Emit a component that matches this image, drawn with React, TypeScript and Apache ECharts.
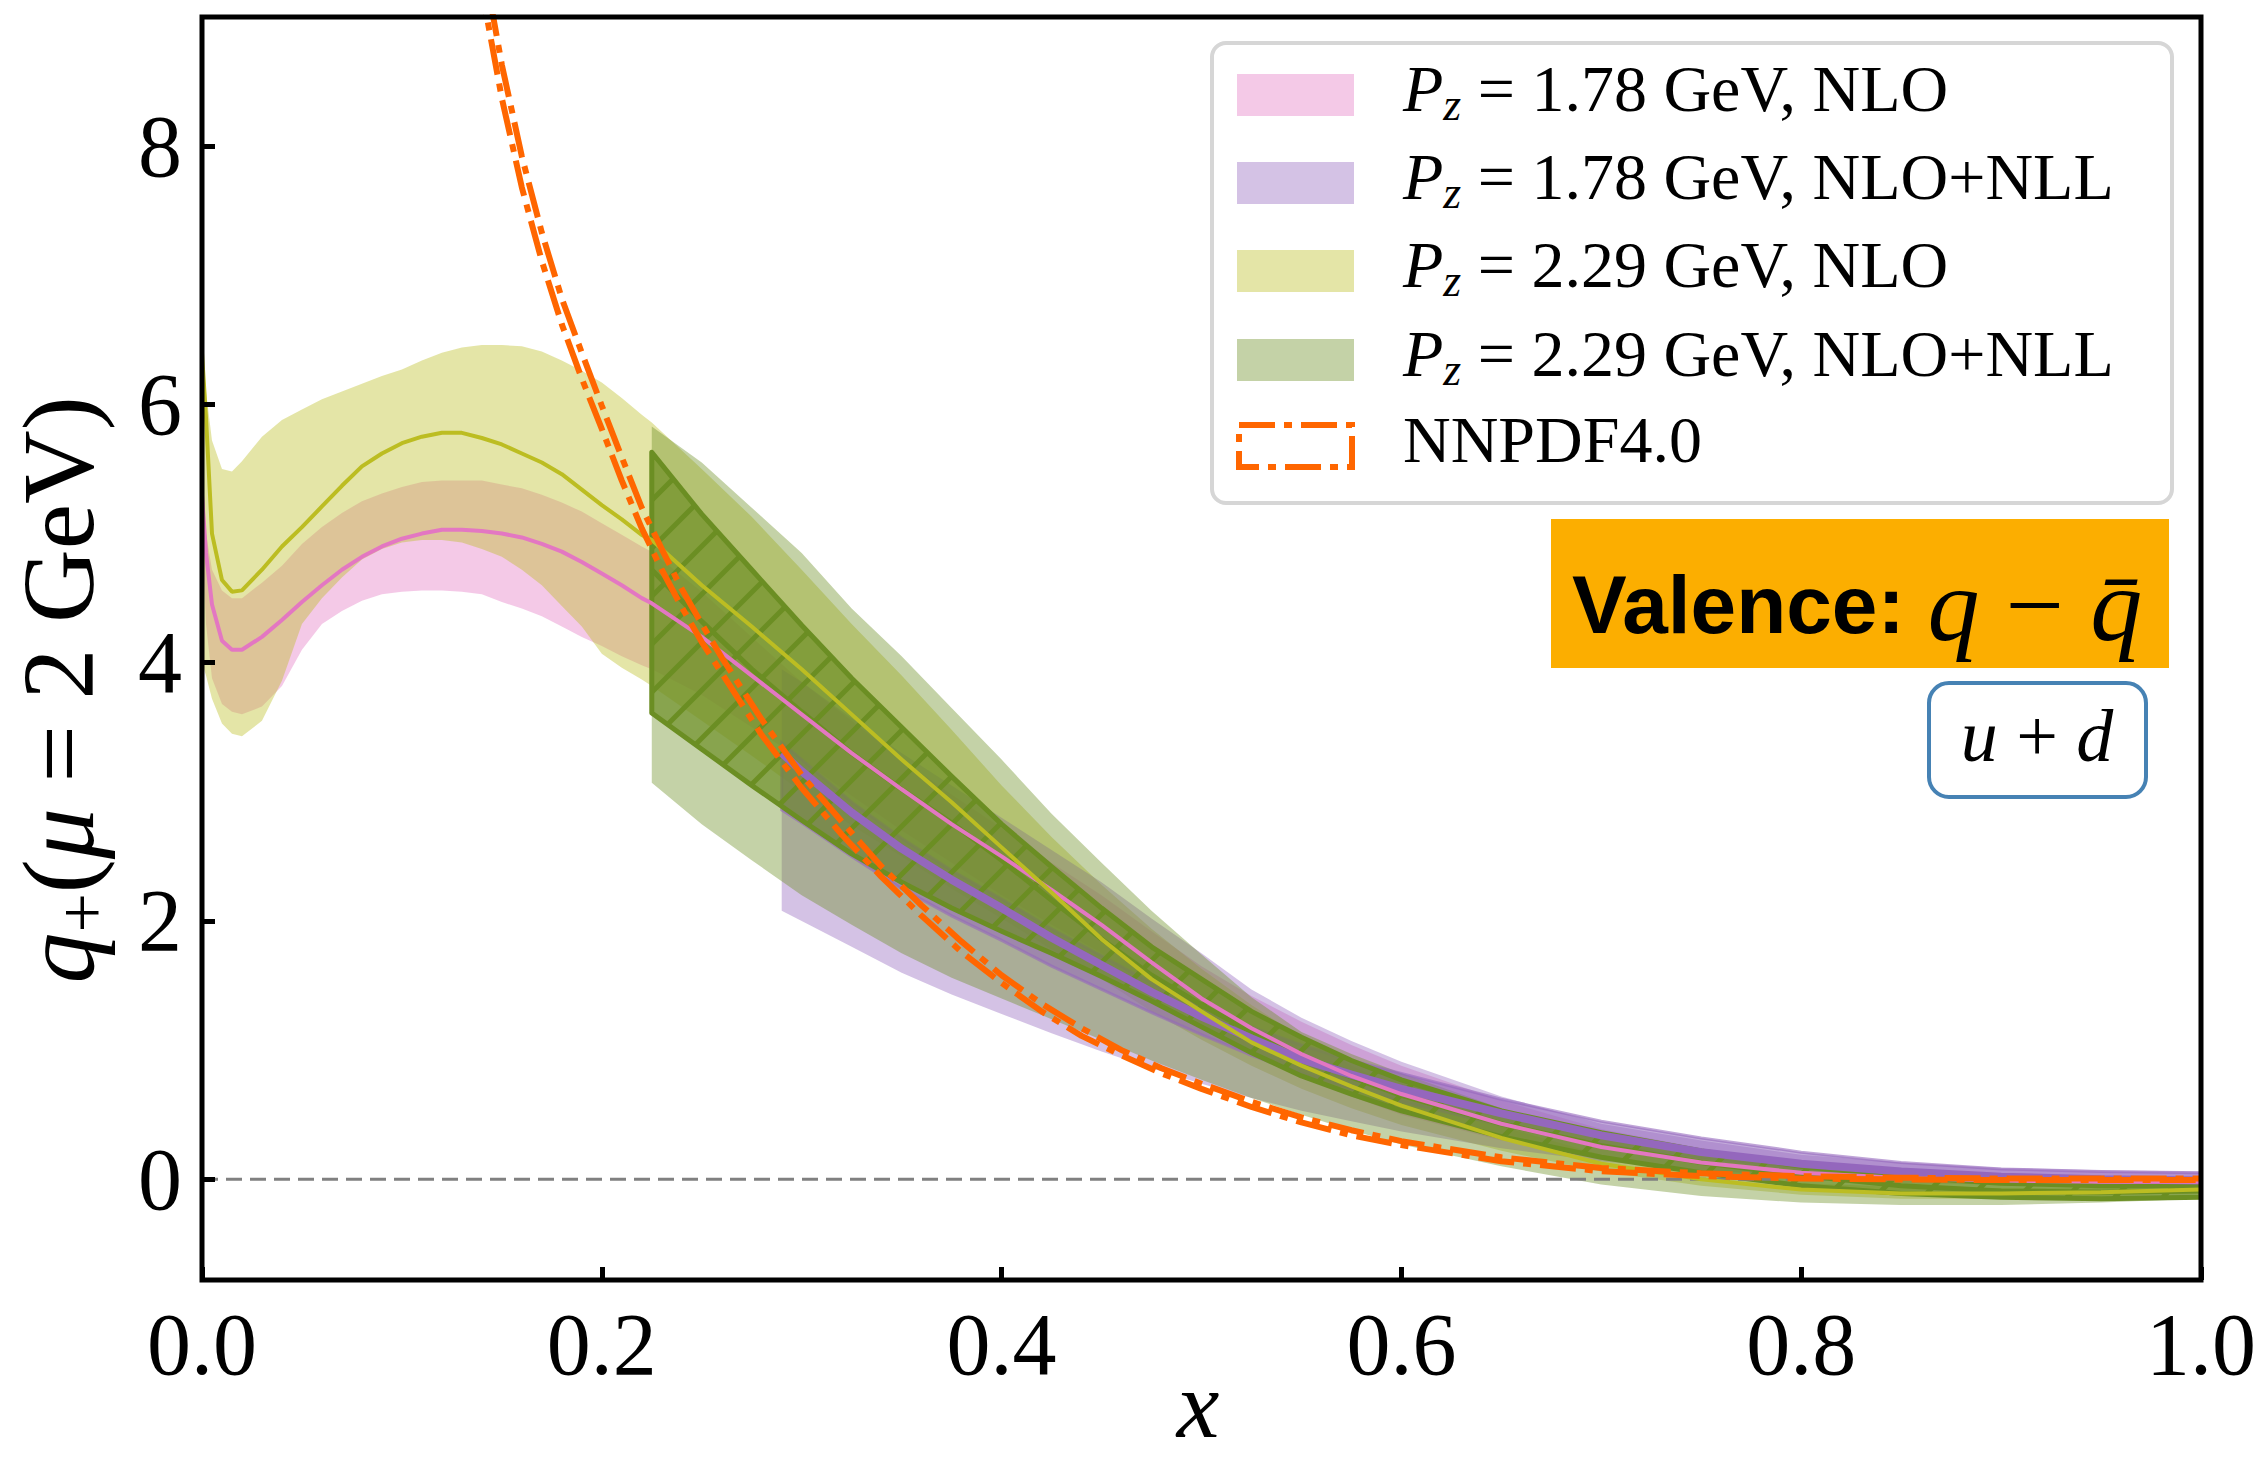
import React, { useEffect, useRef } from 'react';
import * as echarts from 'echarts';

// ---------------- data ----------------
const X_TICKS = [0, 0.2, 0.4, 0.6, 0.8, 1.0];
const Y_TICKS = [0, 2, 4, 6, 8];

const X_FULL = [0, 0.002, 0.005, 0.01, 0.015, 0.02, 0.03, 0.04, 0.05, 0.06, 0.07, 0.08, 0.09, 0.1, 0.11, 0.12, 0.13, 0.14, 0.15, 0.16, 0.17, 0.18, 0.19, 0.2, 0.21, 0.22, 0.225, 0.25, 0.275, 0.3, 0.325, 0.35, 0.375, 0.4, 0.425, 0.45, 0.475, 0.5, 0.525, 0.55, 0.575, 0.6, 0.65, 0.7, 0.75, 0.8, 0.85, 0.9, 0.95, 1.0];

// Pz = 1.78 GeV, NLO
const PINK_MID = [5.3, 4.85, 4.45, 4.17, 4.1, 4.1, 4.2, 4.33, 4.47, 4.6, 4.72, 4.82, 4.9, 4.96, 5.0, 5.03, 5.03, 5.02, 5.0, 4.97, 4.92, 4.86, 4.78, 4.69, 4.6, 4.5, 4.46, 4.2, 3.9, 3.6, 3.3, 3.02, 2.75, 2.5, 2.24, 1.97, 1.68, 1.4, 1.17, 0.97, 0.8, 0.66, 0.43, 0.25, 0.13, 0.05, 0.01, -0.01, -0.02, -0.02];
const PINK_HI = [5.6, 5.0, 4.72, 4.56, 4.5, 4.5, 4.62, 4.75, 4.92, 5.05, 5.16, 5.25, 5.31, 5.36, 5.4, 5.41, 5.41, 5.41, 5.38, 5.35, 5.3, 5.24, 5.17, 5.08, 4.99, 4.9, 4.86, 4.55, 4.2, 3.85, 3.55, 3.25, 2.98, 2.72, 2.45, 2.2, 1.92, 1.65, 1.42, 1.22, 1.04, 0.88, 0.61, 0.39, 0.24, 0.13, 0.06, 0.02, 0.0, -0.01];
const PINK_LO = [5.0, 4.3, 3.88, 3.68, 3.62, 3.6, 3.66, 3.82, 4.1, 4.3, 4.4, 4.48, 4.53, 4.55, 4.56, 4.56, 4.55, 4.53, 4.47, 4.42, 4.36, 4.28, 4.2, 4.13, 4.05, 3.98, 3.95, 3.75, 3.5, 3.25, 2.97, 2.7, 2.45, 2.2, 1.97, 1.75, 1.47, 1.2, 0.98, 0.8, 0.64, 0.5, 0.3, 0.15, 0.06, 0.0, -0.03, -0.04, -0.04, -0.03];

// Pz = 2.29 GeV, NLO
const YEL_MID = [6.4, 5.9, 5.0, 4.64, 4.55, 4.56, 4.72, 4.9, 5.05, 5.21, 5.37, 5.52, 5.62, 5.7, 5.75, 5.78, 5.78, 5.74, 5.69, 5.62, 5.55, 5.46, 5.34, 5.22, 5.11, 4.99, 4.95, 4.6, 4.28, 3.95, 3.6, 3.25, 2.92, 2.57, 2.22, 1.86, 1.55, 1.3, 1.06, 0.88, 0.72, 0.57, 0.32, 0.12, 0.0, -0.08, -0.11, -0.11, -0.1, -0.08];
const YEL_HI = [6.5, 6.1, 5.72, 5.5, 5.48, 5.56, 5.75, 5.88, 5.96, 6.04, 6.1, 6.16, 6.22, 6.27, 6.34, 6.4, 6.44, 6.46, 6.46, 6.45, 6.41, 6.34, 6.26, 6.17, 6.05, 5.92, 5.86, 5.5, 5.13, 4.72, 4.3, 3.9, 3.48, 3.05, 2.65, 2.28, 1.94, 1.63, 1.35, 1.1, 0.88, 0.7, 0.41, 0.19, 0.05, -0.03, -0.06, -0.07, -0.07, -0.06];
const YEL_LO = [4.0, 3.9, 3.72, 3.53, 3.45, 3.43, 3.55, 3.86, 4.3, 4.5, 4.66, 4.8, 4.88, 4.93, 4.95, 4.95, 4.93, 4.88, 4.82, 4.72, 4.6, 4.44, 4.28, 4.07, 3.96, 3.87, 3.82, 3.55, 3.28, 3.0, 2.74, 2.5, 2.25, 2.02, 1.78, 1.55, 1.3, 1.08, 0.88, 0.7, 0.55, 0.42, 0.22, 0.06, -0.05, -0.12, -0.15, -0.15, -0.13, -0.1];

// Pz = 1.78 GeV, NLO+NLL
const X_PUR = [0.29, 0.3, 0.325, 0.35, 0.375, 0.4, 0.425, 0.45, 0.475, 0.5, 0.525, 0.55, 0.575, 0.6, 0.65, 0.7, 0.75, 0.8, 0.85, 0.9, 0.95, 1.0];
const PUR_MID = [3.3, 3.16, 2.84, 2.56, 2.32, 2.1, 1.87, 1.66, 1.45, 1.26, 1.09, 0.93, 0.81, 0.7, 0.51, 0.34, 0.21, 0.12, 0.06, 0.02, 0.0, -0.01];
const PUR_HI = [3.95, 3.85, 3.57, 3.3, 3.05, 2.8, 2.55, 2.3, 2.02, 1.75, 1.47, 1.25, 1.07, 0.91, 0.64, 0.43, 0.3, 0.19, 0.13, 0.09, 0.07, 0.06];
const PUR_LO = [2.08, 2.0, 1.8, 1.6, 1.43, 1.28, 1.13, 0.99, 0.86, 0.74, 0.63, 0.53, 0.45, 0.37, 0.24, 0.14, 0.07, 0.02, -0.01, -0.03, -0.03, -0.03];
const PUR_IN_HI = [3.38, 3.25, 2.92, 2.64, 2.39, 2.17, 1.94, 1.73, 1.52, 1.34, 1.18, 1.04, 0.92, 0.82, 0.62, 0.45, 0.32, 0.21, 0.13, 0.08, 0.06, 0.05];
const PUR_IN_LO = [2.86, 2.76, 2.5, 2.25, 2.04, 1.85, 1.65, 1.47, 1.29, 1.12, 0.96, 0.82, 0.7, 0.6, 0.42, 0.27, 0.16, 0.08, 0.03, -0.01, -0.03, -0.05];

// Pz = 2.29 GeV, NLO+NLL
const X_GRN = [0.225, 0.25, 0.275, 0.3, 0.325, 0.35, 0.375, 0.4, 0.425, 0.45, 0.475, 0.5, 0.525, 0.55, 0.575, 0.6, 0.65, 0.7, 0.75, 0.8, 0.85, 0.9, 0.95, 1.0];
const GRN_HI = [5.83, 5.55, 5.2, 4.85, 4.42, 4.05, 3.65, 3.25, 2.83, 2.45, 2.08, 1.74, 1.41, 1.14, 0.97, 0.82, 0.55, 0.33, 0.2, 0.1, 0.04, 0.0, -0.02, -0.02];
const GRN_LO = [3.07, 2.75, 2.47, 2.2, 1.97, 1.75, 1.56, 1.4, 1.24, 1.08, 0.92, 0.77, 0.63, 0.5, 0.38, 0.27, 0.1, -0.04, -0.13, -0.18, -0.2, -0.2, -0.18, -0.15];
const GRN_MID = [4.72, 4.32, 3.95, 3.62, 3.3, 3.02, 2.76, 2.47, 2.16, 1.86, 1.58, 1.35, 1.14, 0.95, 0.79, 0.65, 0.43, 0.26, 0.13, 0.03, -0.05, -0.09, -0.1, -0.09];
const GRN_H_HI = [5.63, 5.15, 4.72, 4.29, 3.88, 3.5, 3.12, 2.75, 2.42, 2.1, 1.8, 1.55, 1.3, 1.1, 0.92, 0.77, 0.53, 0.36, 0.22, 0.1, 0.02, -0.03, -0.05, -0.05];
const GRN_H_LO = [3.61, 3.33, 3.05, 2.78, 2.52, 2.3, 2.1, 1.92, 1.75, 1.57, 1.38, 1.18, 0.98, 0.8, 0.66, 0.53, 0.33, 0.17, 0.05, -0.05, -0.11, -0.14, -0.15, -0.14];

// NNPDF4.0
const X_NN = [0.13, 0.14, 0.15, 0.16, 0.17, 0.18, 0.19, 0.2, 0.21, 0.22, 0.23, 0.24, 0.25, 0.26, 0.28, 0.3, 0.32, 0.34, 0.36, 0.38, 0.4, 0.42, 0.44, 0.46, 0.48, 0.5, 0.525, 0.55, 0.575, 0.6, 0.65, 0.7, 0.75, 0.8, 0.85, 0.9, 0.95, 1.0];
const NN_HI = [10.55, 9.49, 8.63, 7.92, 7.33, 6.82, 6.4, 5.99, 5.59, 5.2, 4.88, 4.57, 4.3, 4.04, 3.56, 3.13, 2.77, 2.42, 2.12, 1.84, 1.58, 1.36, 1.17, 1.0, 0.86, 0.74, 0.6, 0.48, 0.38, 0.295, 0.17, 0.088, 0.046, 0.024, 0.012, 0.006, 0.005, 0.005];
const NN_LO = [10.25, 9.21, 8.37, 7.68, 7.11, 6.62, 6.2, 5.81, 5.41, 5.04, 4.72, 4.43, 4.16, 3.92, 3.44, 3.03, 2.67, 2.34, 2.04, 1.76, 1.52, 1.3, 1.11, 0.96, 0.82, 0.7, 0.56, 0.44, 0.34, 0.265, 0.14, 0.062, 0.024, 0.006, -0.002, -0.006, -0.005, -0.005];

const LEGEND_VALUES = ['1.78', '1.78', '2.29', '2.29'];
const LEGEND_ORDERS = ['NLO', 'NLO+NLL', 'NLO', 'NLO+NLL'];
const NNPDF_LABEL = 'NNPDF4.0';

// ---------------- styles ----------------
const W = 2263;
const H = 1464;
const GL = 202, GT = 17, GW = 1999, GH = 1263;
const SERIF = '"Liberation Serif", "Times New Roman", serif';
const SANS = '"Liberation Sans", Arial, sans-serif';

const PINK = '#e377c2';
const PURPLE = '#9467bd';
const YELLOW = '#bcbd22';
const OLIVE = '#6b8e23';
const ORANGE = '#ff6600';
const A = (hex: string, a: number) => {
  const r = parseInt(hex.slice(1, 3), 16), g = parseInt(hex.slice(3, 5), 16), b = parseInt(hex.slice(5, 7), 16);
  return `rgba(${r},${g},${b},${a})`;
};
const NN_DASH = [36, 9, 8, 9];

function interpY(pts: number[][], px: number): number {
  for (let i = 0; i < pts.length - 1; i++) {
    const [x0, y0] = pts[i];
    const [x1, y1] = pts[i + 1];
    if (px >= x0 && px <= x1) {
      const t = x1 === x0 ? 0 : (px - x0) / (x1 - x0);
      return y0 + t * (y1 - y0);
    }
  }
  return pts[pts.length - 1][1];
}

function bandSeries(id: string, xs: number[], lo: number[], hi: number[], fill: string, z: number, stroke?: string, sw?: number) {
  return {
    type: 'custom',
    id,
    coordinateSystem: 'cartesian2d',
    clip: true,
    silent: true,
    z,
    data: [[xs[0], lo[0]]],
    renderItem: (_p: any, api: any) => {
      const top = xs.map((x, i) => api.coord([x, hi[i]]));
      const bot = xs.map((x, i) => api.coord([x, lo[i]])).reverse();
      return {
        type: 'polygon',
        shape: { points: top.concat(bot) },
        style: { fill, stroke: stroke || 'none', lineWidth: sw || 0 },
      };
    },
  };
}

function hatchSeries(id: string, xs: number[], lo: number[], hi: number[], z: number) {
  return {
    type: 'custom',
    id,
    coordinateSystem: 'cartesian2d',
    clip: true,
    silent: true,
    z,
    data: [[xs[0], lo[0]]],
    renderItem: (_p: any, api: any) => {
      const top = xs.map((x, i) => api.coord([x, hi[i]]));
      const bot = xs.map((x, i) => api.coord([x, lo[i]]));
      const poly = top.concat(bot.slice().reverse());
      const children: any[] = [
        { type: 'polygon', shape: { points: poly }, style: { fill: A(OLIVE, 0.68), stroke: 'none' } },
      ];
      const p0 = top[0][0];
      const p1 = top[top.length - 1][0];
      const S = 48;
      const minC = p0 + Math.min(...top.map((p) => p[1]));
      const maxC = p1 + Math.max(...bot.map((p) => p[1]));
      const seg = (a: number, b: number, c: number) => ({
        type: 'line', shape: { x1: a, y1: c - a, x2: b, y2: c - b }, style: { stroke: OLIVE, lineWidth: 5 },
      });
      for (let c = Math.floor(minC / S) * S; c <= maxC + S; c += S) {
        let start: number | null = null;
        let prev = p0;
        for (let px = p0; px <= p1; px += 1) {
          const py = c - px;
          const inside = py >= interpY(top, px) && py <= interpY(bot, px);
          if (inside && start === null) start = px;
          if (!inside && start !== null) {
            children.push(seg(start, prev, c));
            start = null;
          }
          prev = px;
        }
        if (start !== null) children.push(seg(start, prev, c));
      }
      children.push({ type: 'polygon', shape: { points: poly }, style: { fill: 'none', stroke: OLIVE, lineWidth: 5, lineJoin: 'round' } });
      return { type: 'group', children };
    },
  };
}

function lineSeries(id: string, xs: number[], ys: number[], color: string, width: number, z: number, dash?: number[]) {
  return {
    type: 'line',
    id,
    data: xs.map((x, i) => [x, ys[i]]),
    showSymbol: false,
    symbol: 'none',
    silent: true,
    clip: true,
    z,
    lineStyle: { color, width, type: dash || 'solid', cap: 'butt' },
    emphasis: { disabled: true },
  };
}

function buildOption() {
  const legendRows = [95, 183, 271, 360, 446];
  const swatchColors = [A(PINK, 0.4), A(PURPLE, 0.4), A(YELLOW, 0.4), A(OLIVE, 0.4)];
  const richLegend = {
    i: { fontFamily: SERIF, fontStyle: 'italic', fontSize: 66, lineHeight: 78, color: '#000' },
    s: { fontFamily: SERIF, fontStyle: 'italic', fontSize: 46, lineHeight: 46, verticalAlign: 'bottom', color: '#000' },
    n: { fontFamily: SERIF, fontSize: 66, lineHeight: 78, color: '#000' },
  };
  const graphics: any[] = [
    { type: 'rect', z: 90, shape: { x: GL, y: GT, width: GW, height: GH }, style: { fill: 'none', stroke: '#000', lineWidth: 5 } },
    { type: 'rect', z: 100, shape: { x: 1212, y: 43, width: 960, height: 460, r: 14 }, style: { fill: 'rgba(255,255,255,0.8)', stroke: '#d6d6d6', lineWidth: 4 } },
  ];
  LEGEND_VALUES.forEach((v, k) => {
    const cy = legendRows[k];
    graphics.push({ type: 'rect', z: 101, shape: { x: 1237, y: cy - 21, width: 117, height: 42 }, style: { fill: swatchColors[k] } });
    graphics.push({
      type: 'text', z: 101, x: 1403, y: cy - 7,
      style: {
        text: `{i|P}{s|z}{n| = ${v} GeV, ${LEGEND_ORDERS[k]}}`,
        rich: richLegend, align: 'left', verticalAlign: 'middle', textAlign: 'left', textVerticalAlign: 'middle',
        fontFamily: SERIF, fontSize: 66, fill: '#000',
      },
    });
  });
  graphics.push({ type: 'rect', z: 101, shape: { x: 1239, y: legendRows[4] - 21, width: 113, height: 42 }, style: { fill: 'none', stroke: ORANGE, lineWidth: 6, lineDash: NN_DASH } });
  graphics.push({
    type: 'text', z: 101, x: 1403, y: legendRows[4] - 7,
    style: { text: NNPDF_LABEL, fontFamily: SERIF, fontSize: 66, fill: '#000', align: 'left', verticalAlign: 'middle', textAlign: 'left', textVerticalAlign: 'middle' },
  });
  // Valence box
  graphics.push({ type: 'rect', z: 101, shape: { x: 1551, y: 519, width: 618, height: 149 }, style: { fill: '#fcae00' } });
  graphics.push({
    type: 'text', z: 102, x: 1572, y: 604,
    style: {
      text: '{b|Valence: }{i|q}{n| \u2212 }{i|q\u0304}',
      rich: {
        b: { fontFamily: SANS, fontWeight: 'bold', fontSize: 82, lineHeight: 112, color: '#000' },
        i: { fontFamily: SERIF, fontStyle: 'italic', fontSize: 104, lineHeight: 112, color: '#000' },
        n: { fontFamily: SERIF, fontSize: 104, lineHeight: 112, color: '#000' },
      },
      align: 'left', verticalAlign: 'middle', textAlign: 'left', textVerticalAlign: 'middle', fill: '#000',
    },
  });
  // u + d box
  graphics.push({ type: 'rect', z: 101, shape: { x: 1929, y: 683, width: 217, height: 114, r: 20 }, style: { fill: '#fff', stroke: '#4682b4', lineWidth: 4 } });
  graphics.push({
    type: 'text', z: 102, x: 2037, y: 736,
    style: {
      text: '{i|u}{n| + }{i|d}',
      rich: {
        i: { fontFamily: SERIF, fontStyle: 'italic', fontSize: 74, lineHeight: 80, color: '#000' },
        n: { fontFamily: SERIF, fontSize: 74, lineHeight: 80, color: '#000' },
      },
      align: 'center', verticalAlign: 'middle', textAlign: 'center', textVerticalAlign: 'middle', fill: '#000',
    },
  });
  // axis titles
  graphics.push({
    type: 'text', z: 102, x: 58, y: 690, rotation: Math.PI / 2,
    style: {
      text: '{i|q}{s|+}{n|(}{i|\u03bc}{n| = 2 GeV)}',
      rich: {
        i: { fontFamily: SERIF, fontStyle: 'italic', fontSize: 102, lineHeight: 118, color: '#000' },
        s: { fontFamily: SERIF, fontSize: 70, lineHeight: 70, verticalAlign: 'bottom', color: '#000' },
        n: { fontFamily: SERIF, fontSize: 102, lineHeight: 118, color: '#000' },
      },
      align: 'center', verticalAlign: 'middle', textAlign: 'center', textVerticalAlign: 'middle', fill: '#000',
    },
  });
  graphics.push({
    type: 'text', z: 102, x: 1198, y: 1404,
    style: { text: 'x', fontFamily: SERIF, fontStyle: 'italic', fontSize: 96, lineHeight: 76, fill: '#000', align: 'center', verticalAlign: 'middle', textAlign: 'center', textVerticalAlign: 'middle' },
  });

  const series: any[] = [
    bandSeries('pinkBand', X_FULL, PINK_LO, PINK_HI, A(PINK, 0.4), 2),
    bandSeries('yelBand', X_FULL, YEL_LO, YEL_HI, A(YELLOW, 0.4), 3),
    bandSeries('purBand', X_PUR, PUR_LO, PUR_HI, A(PURPLE, 0.4), 4),
    bandSeries('grnBand', X_GRN, GRN_LO, GRN_HI, A(OLIVE, 0.4), 5),
    bandSeries('purInner', X_PUR, PUR_IN_LO, PUR_IN_HI, A(PURPLE, 0.55), 6, A(PURPLE, 0.6), 3),
    hatchSeries('grnHatch', X_GRN, GRN_H_LO, GRN_H_HI, 7),
    lineSeries('zero', [0, 1], [0, 0], '#808080', 3, 8, [16, 8]),
    lineSeries('grnMid', X_GRN, GRN_MID, OLIVE, 5, 9),
    lineSeries('purMid', X_PUR, PUR_MID, PURPLE, 8, 10),
    lineSeries('pinkMid', X_FULL, PINK_MID, PINK, 4, 11),
    lineSeries('yelMid', X_FULL, YEL_MID, YELLOW, 4, 12),
    lineSeries('nnHi', X_NN, NN_HI, ORANGE, 6, 13, NN_DASH),
    lineSeries('nnLo', X_NN, NN_LO, ORANGE, 6, 14, NN_DASH),
  ];

  return {
    animation: false,
    backgroundColor: '#fff',
    grid: { left: GL, top: GT, width: GW, height: GH, containLabel: false, outerBoundsMode: 'none', show: false },
    xAxis: {
      type: 'value', min: 0, max: 1, interval: 0.2, z: 50,
      splitLine: { show: false },
      axisLine: { show: false, onZero: false },
      axisTick: { show: true, inside: true, length: 13, lineStyle: { color: '#000', width: 5 }, customValues: X_TICKS },
      axisLabel: {
        show: true, customValues: X_TICKS, margin: 20, color: '#000', fontFamily: SERIF, fontSize: 88,
        showMinLabel: true, showMaxLabel: true,
        formatter: (v: number) => v.toFixed(1),
      },
    },
    yAxis: {
      type: 'value', min: -0.78, max: 9, z: 50,
      splitLine: { show: false },
      axisLine: { show: false, onZero: false },
      axisTick: { show: true, inside: true, length: 13, lineStyle: { color: '#000', width: 5 }, customValues: Y_TICKS },
      axisLabel: { show: true, customValues: Y_TICKS, margin: 20, color: '#000', fontFamily: SERIF, fontSize: 88, formatter: (v: number) => String(Math.round(v)) },
    },
    graphic: { elements: graphics },
    series,
  };
}

export default function App() {
  const ref = useRef<HTMLDivElement>(null);
  useEffect(() => {
    document.body.style.margin = '0';
    const chart = echarts.init(ref.current!, null, { renderer: 'svg' });
    chart.setOption(buildOption() as any);
    return () => chart.dispose();
  }, []);
  return <div ref={ref} style={{ width: W, height: H }} />;
}
